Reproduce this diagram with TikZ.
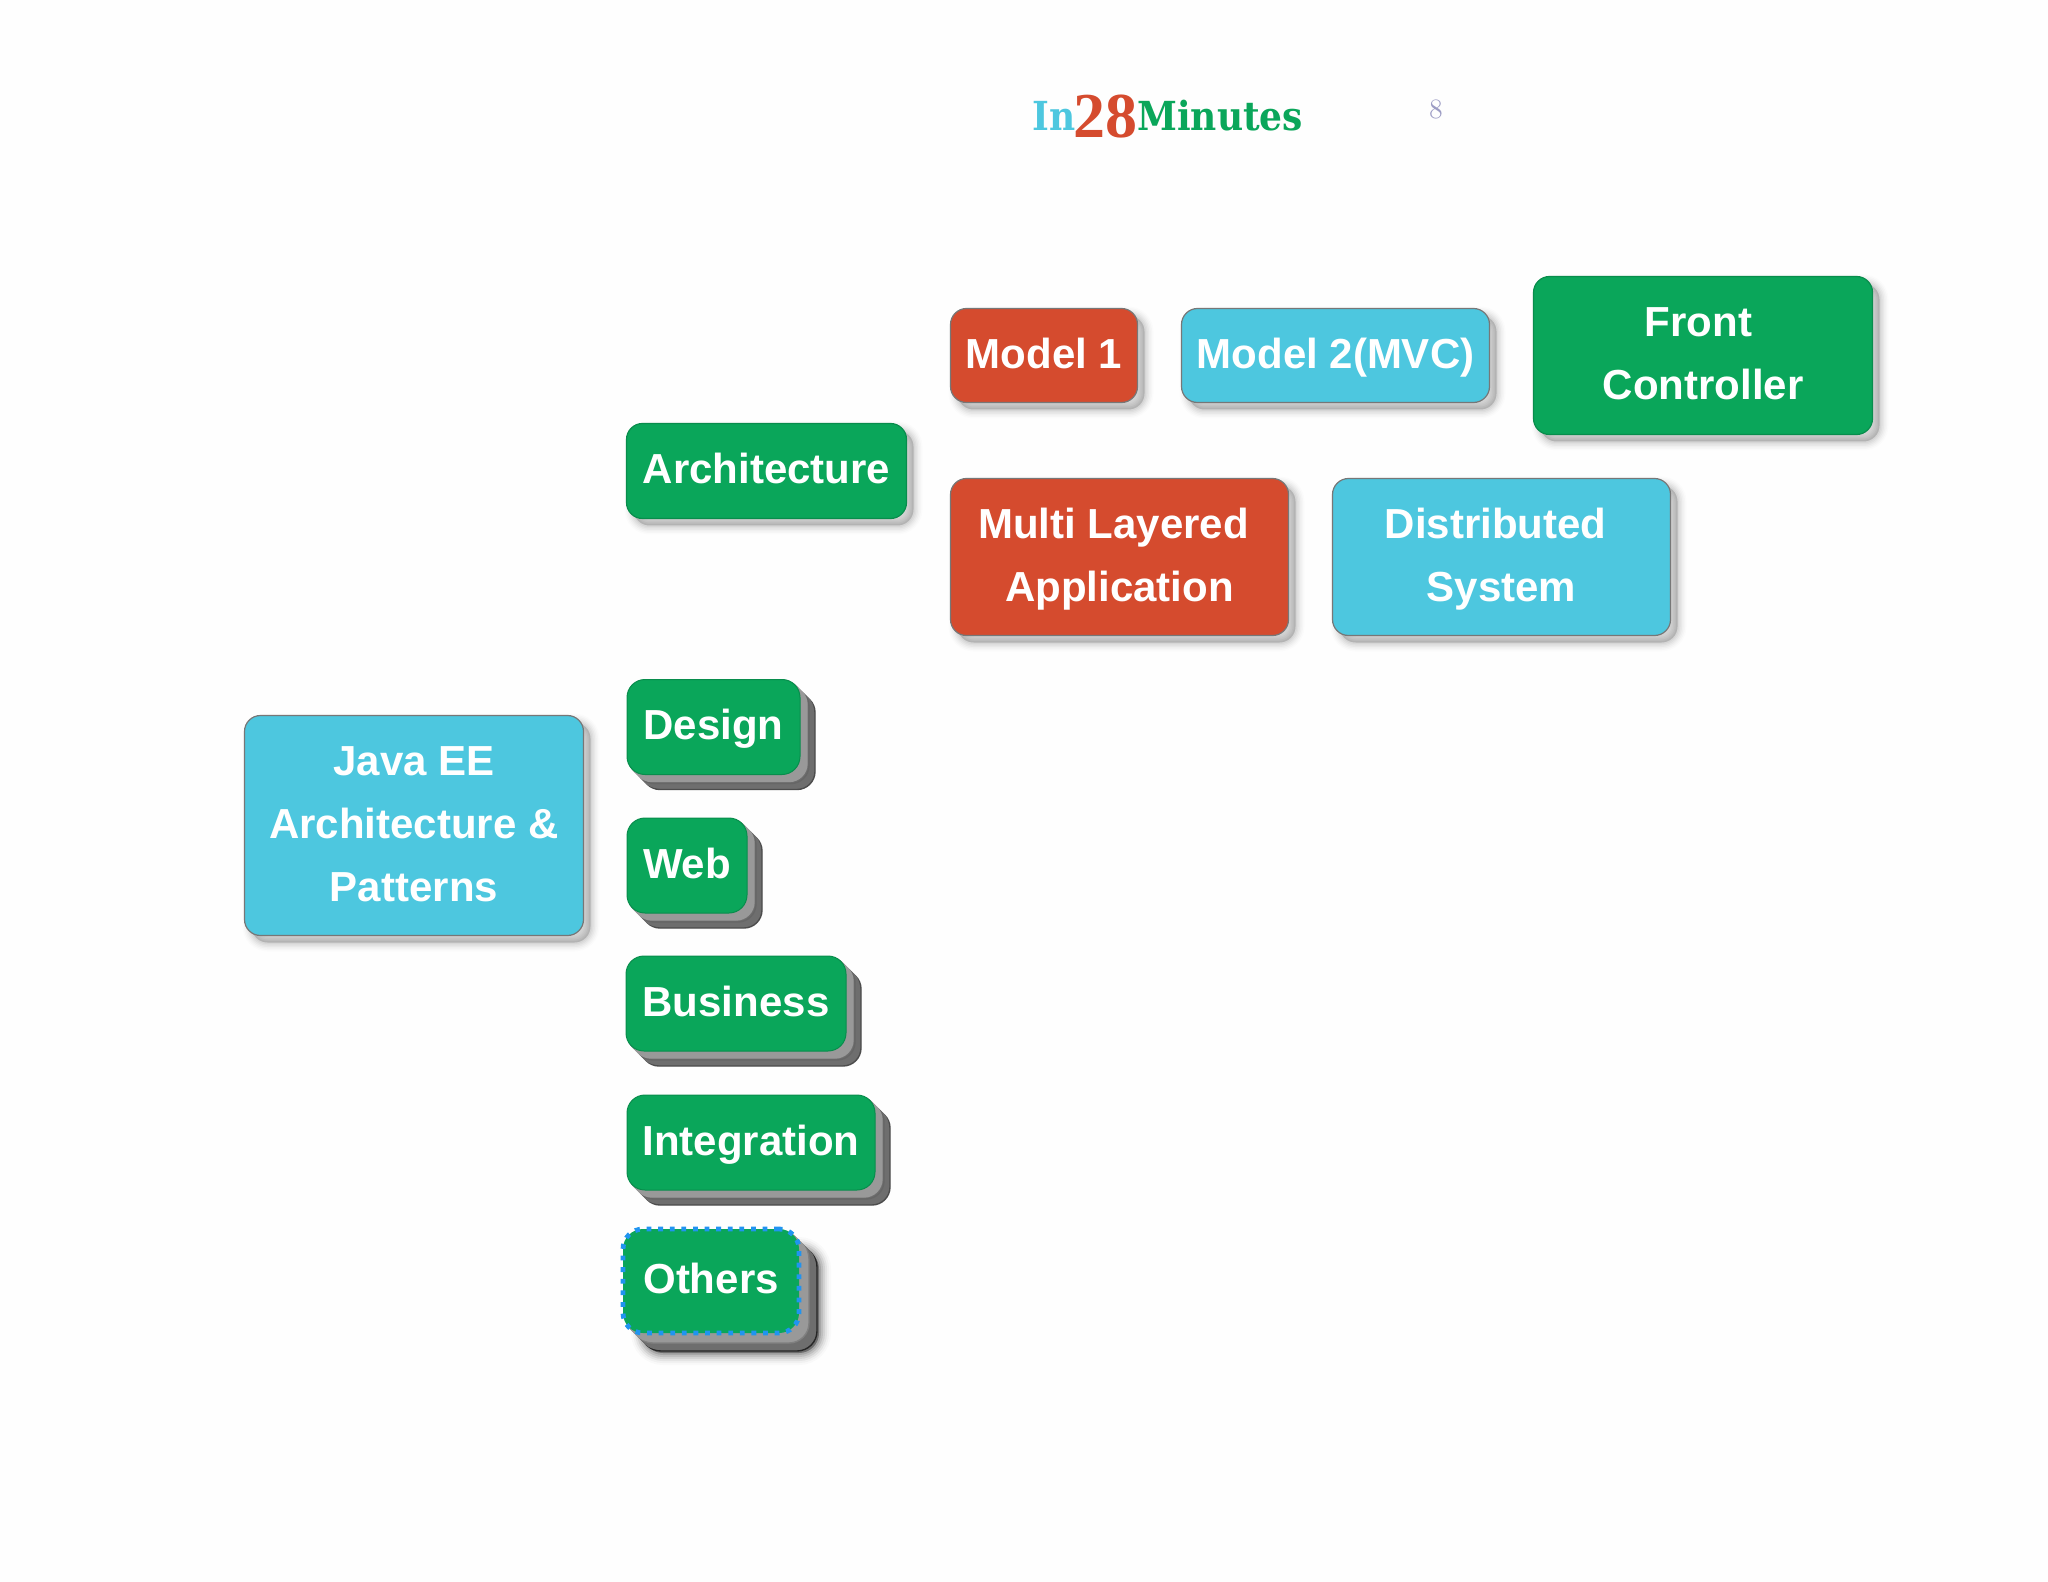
\documentclass[tikz,border=0pt]{standalone}
\usepackage{fontspec}
\setmainfont{Liberation Sans}
\newfontfamily\logofont[FakeStretch=0.9]{DejaVu Serif}
\newfontfamily\numfont{Liberation Serif}
\newfontfamily\pagefont{Latin Modern Roman}
\definecolor{bgc}{HTML}{FEFEFE}
\definecolor{grn}{HTML}{0AA65A}
\definecolor{blu}{HTML}{4DC7DF}
\definecolor{rdd}{HTML}{D54B2E}
\definecolor{edgec}{HTML}{777777}
\definecolor{layerl}{HTML}{999999}
\definecolor{layerd}{HTML}{6E6E6E}
\definecolor{dotc}{HTML}{2094F0}
\definecolor{pagec}{HTML}{9C9CC4}
\tikzset{
  x=0.5pt,y=-0.5pt,
  softpart/.style args={#1/#2/#3}{preaction={solid,draw=black,fill=black,line width=#2,draw opacity=#3,fill opacity=#3,transform canvas={shift={(#1,-#1)}}}},
  softshadow/.style={softpart=3.5pt/9pt/.012,softpart=3.5pt/7.5pt/.018,softpart=3.5pt/6pt/.024,softpart=3.5pt/4.5pt/.03,softpart=3.5pt/3pt/.035,softpart=3.5pt/1.5pt/.04},
  strongshadow/.style={softpart=10pt/12pt/.02,softpart=10pt/10pt/.03,softpart=10pt/8pt/.05,softpart=10pt/6pt/.07,softpart=10pt/4pt/.09,softpart=10pt/2pt/.12},
  layerpart/.style args={#1/#2/#3}{preaction={solid,fill=#2,draw=#3,line width=.7pt,transform canvas={shift={(#1,-#1)}}}},
  stacked/.style={
    layerpart=7.5pt/layerd/black!70,layerpart=6.5pt/layerd/layerd,layerpart=5.5pt/layerd/layerd,
    layerpart=4.5pt/layerd/black!60,layerpart=3.5pt/layerl/layerl,layerpart=2.5pt/layerl/layerl,layerpart=1.5pt/layerl/layerl,layerpart=.7pt/layerl/layerl},
  stackedbig/.style={
    strongshadow,
    layerpart=9pt/layerd/black!85,layerpart=8pt/layerd/layerd,layerpart=7pt/layerd/layerd,layerpart=6pt/layerd/layerd,
    layerpart=5pt/layerl/black!50,layerpart=4pt/layerl/layerl,layerpart=3pt/layerl/layerl,layerpart=2pt/layerl/layerl,layerpart=1pt/layerl/layerl},
  boxbase/.style={rounded corners=8pt,inner sep=0pt,align=center,text=white,
    font=\fontsize{21}{31.5}\selectfont\bfseries},
  plainbox/.style={boxbase,softshadow,draw=edgec,line width=.6pt},
  redbox/.style={plainbox,fill=rdd},
  bluebox/.style={plainbox,fill=blu},
  greenbox/.style={plainbox,fill=grn,draw=grn!85!black},
  stackbox/.style={boxbase,rounded corners=9pt,stacked,fill=grn,draw=grn!85!black,line width=.5pt},
  dottedbox/.style={boxbase,rounded corners=10pt,stackedbig,fill=grn,draw=dotc,line width=2.4pt,dash pattern=on 2.4pt off 3.4pt},
  logotext/.style={inner sep=0pt,anchor=base west},
}
\begin{document}
\begin{tikzpicture}
\useasboundingbox (0,0) rectangle (2048,1582);
\fill[bgc] (0,0) rectangle (2048,1582);
\node[logotext,text=blu,font=\logofont\fontsize{20}{20}\selectfont\bfseries] (logoa) at (1032,131) {In};
\node[logotext,text=rdd,font=\numfont\fontsize{32}{32}\selectfont\bfseries] (logob) at (1073,138) {28};
\node[logotext,text=grn,font=\logofont\fontsize{20}{20}\selectfont\bfseries] (logoc) at (1137,131) {Minutes};
\node[inner sep=0pt,text=pagec,font=\pagefont\fontsize{14}{14}\selectfont] (pagenum) at (1436,109) {8};

\node[redbox,minimum width=93.5pt,minimum height=47pt] (model1) at (1044,355.5) {\strut Model 1};
\node[bluebox,minimum width=154pt,minimum height=47pt] (model2) at (1335.5,355.5) {\strut Model 2(MVC)};
\node[greenbox,minimum width=169.5pt,minimum height=79pt] (front) at (1703,355.5) {\strut Front\kern4.5pt\\\strut Controller};
\node[greenbox,minimum width=140pt,minimum height=47.5pt] (arch) at (766.5,471) {\strut Architecture};
\node[redbox,minimum width=169pt,minimum height=78.5pt] (multi) at (1119.5,557) {\strut Multi Layered\kern6pt\\\strut Application};
\node[bluebox,minimum width=169pt,minimum height=78.5pt] (dist) at (1501.5,557) {\strut Distributed\kern6pt\\\strut System};
\node[bluebox,minimum width=169.5pt,minimum height=110pt] (java) at (414,825.5) {\strut Java EE\\\strut Architecture \&\\\strut Patterns};
\node[stackbox,minimum width=86.5pt,minimum height=47.5pt] (design) at (713.5,727) {\strut Design};
\node[stackbox,minimum width=60pt,minimum height=47.5pt] (web) at (687,865.5) {\strut Web};
\node[stackbox,minimum width=110pt,minimum height=47.5pt] (business) at (736,1003.5) {\strut Business};
\node[stackbox,minimum width=124pt,minimum height=47.5pt] (integration) at (751,1142.5) {\strut Integration};
\node[dottedbox,minimum width=88pt,minimum height=52pt] (others) at (711,1281) {\strut Others};
\end{tikzpicture}
\end{document}
